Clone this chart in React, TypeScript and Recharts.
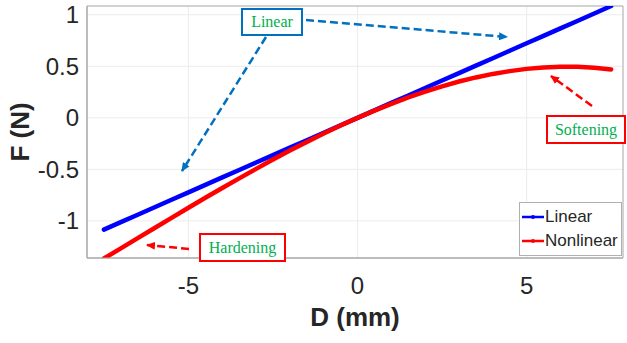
import {
  LineChart,
  Line,
  XAxis,
  YAxis,
  CartesianGrid,
  Legend,
  ReferenceArea,
  Label,
} from 'recharts';

// displacement D (mm) and force F (N)
const displacement = [
  -7.5, -7, -6.5, -6, -5.5, -5, -4.5, -4, -3.5, -3, -2.5, -2, -1.5, -1, -0.5, 0,
  0.5, 1, 1.5, 2, 2.5, 3, 3.5, 4, 4.5, 5, 5.5, 6, 6.5, 7, 7.5,
];
const linearForce = [
  -1.085, -1.012, -0.94, -0.868, -0.795, -0.723, -0.651, -0.578, -0.506, -0.434,
  -0.362, -0.289, -0.217, -0.145, -0.072, 0, 0.072, 0.145, 0.217, 0.289, 0.362,
  0.434, 0.506, 0.578, 0.651, 0.723, 0.795, 0.868, 0.94, 1.012, 1.085,
];
const nonlinearForce = [
  -1.365, -1.266, -1.167, -1.069, -0.97, -0.873, -0.776, -0.681, -0.587, -0.495,
  -0.405, -0.318, -0.234, -0.152, -0.074, 0, 0.07, 0.136, 0.198, 0.254, 0.306,
  0.352, 0.392, 0.426, 0.453, 0.475, 0.489, 0.496, 0.495, 0.486, 0.47,
];
const xTicks = [-5, 0, 5];
const yTicks = [-1, -0.5, 0, 0.5, 1];

const series = [
  { key: 'linear', name: 'Linear', color: '#0000ff' },
  { key: 'nonlinear', name: 'Nonlinear', color: '#ff0000' },
];

const data = displacement.map((d, i) => ({
  d,
  linear: linearForce[i],
  nonlinear: nonlinearForce[i],
}));

const X_DOMAIN = [-8, 7.85];
const Y_DOMAIN = [-1.36, 1.085];
const AXIS_COLOR = '#a6a6a6';
const TICK_FONT = { fontSize: 24, fill: '#262626', fontFamily: 'Liberation Sans, Arial, sans-serif' };

const LegendBox = () => (
  <div
    style={{
      background: '#fff',
      border: '1px solid #b0b0b0',
      padding: '2px 3px 2px 2px',
      fontFamily: 'Liberation Sans, Arial, sans-serif',
      fontSize: 17,
      color: '#262626',
      lineHeight: '24px',
      width: 96,
    }}
  >
    {series.map((s) => (
      <div key={s.key} style={{ display: 'flex', alignItems: 'center' }}>
        <svg width={22} height={10} style={{ marginRight: 1 }}>
          <line x1={0} y1={5} x2={22} y2={5} stroke={s.color} strokeWidth={2.5} />
          <circle cx={11} cy={5} r={2} fill={s.color} />
        </svg>
        {s.name}
      </div>
    ))}
  </div>
);

const Note = ({ x, y, w, h, text, border }: { x: number; y: number; w: number; h: number; text: string; border: string }) => (
  <g>
    <rect x={x} y={y} width={w} height={h} fill="#fff" stroke={border} strokeWidth={2} />
    <text
      x={x + w / 2}
      y={y + h / 2 + 5}
      textAnchor="middle"
      fontFamily="Liberation Serif, Times New Roman, serif"
      fontSize={16}
      fill="#00b050"
    >
      {text}
    </text>
  </g>
);

const Annotations = () => (
  <svg
    width={627}
    height={343}
    style={{ position: 'absolute', left: 0, top: 0, pointerEvents: 'none' }}
  >
    <defs>
      <marker id="headBlue" markerWidth="9" markerHeight="8" refX="8" refY="4" orient="auto" markerUnits="userSpaceOnUse" viewBox="0 0 9 8">
        <path d="M0,0 L9,4 L0,8 z" fill="#0070c0" />
      </marker>
      <marker id="headRed" markerWidth="9" markerHeight="8" refX="8" refY="4" orient="auto" markerUnits="userSpaceOnUse" viewBox="0 0 9 8">
        <path d="M0,0 L9,4 L0,8 z" fill="#ff0000" />
      </marker>
    </defs>
    <g strokeWidth={2.5} strokeDasharray="8 4" fill="none">
      <line x1={266} y1={37} x2={182} y2={171} stroke="#0070c0" markerEnd="url(#headBlue)" />
      <line x1={306} y1={20} x2={507} y2={37} stroke="#0070c0" markerEnd="url(#headBlue)" />
      <line x1={592} y1={106} x2={551} y2={76} stroke="#ff0000" markerEnd="url(#headRed)" />
      <line x1={189} y1={249} x2={147} y2={245} stroke="#ff0000" markerEnd="url(#headRed)" />
    </g>
    <Note x={242} y={9} w={60} h={26} text="Linear" border="#0070c0" />
    <Note x={547} y={116} w={78} h={27} text="Softening" border="#ff0000" />
    <Note x={200} y={234} w={85} h={27} text="Hardening" border="#ff0000" />
  </svg>
);

export default function App() {
  return (
    <div style={{ position: 'absolute', left: 0, top: 0, width: 627, height: 343, background: '#fff' }}>
      <LineChart
        width={627}
        height={343}
        data={data}
        margin={{ top: 6, right: 4, bottom: 0, left: 0 }}
      >
        <CartesianGrid stroke="#ececec" horizontalValues={yTicks} verticalValues={xTicks} />
        <ReferenceArea
          x1={X_DOMAIN[0]}
          x2={X_DOMAIN[1]}
          y1={Y_DOMAIN[0]}
          y2={Y_DOMAIN[1]}
          fill="none"
          stroke={AXIS_COLOR}
          strokeWidth={1}
        />
        <XAxis
          dataKey="d"
          type="number"
          domain={X_DOMAIN}
          ticks={xTicks}
          allowDataOverflow
          height={85}
          tickSize={0}
          tickMargin={19}
          tick={TICK_FONT}
          stroke={AXIS_COLOR}
        >
          <Label
            content={({ viewBox }: any) => (
              <text
                x={viewBox.x + viewBox.width / 2}
                y={326}
                textAnchor="middle"
                fontFamily="Liberation Sans, Arial, sans-serif"
                fontWeight="bold"
                fontSize={26}
                fill="#262626"
              >
                D (mm)
              </text>
            )}
          />
        </XAxis>
        <YAxis
          type="number"
          domain={Y_DOMAIN}
          ticks={yTicks}
          allowDataOverflow
          width={87}
          tickSize={0}
          tickMargin={8}
          tick={TICK_FONT}
          stroke={AXIS_COLOR}
        >
          <Label
            content={({ viewBox }: any) => {
              const cy = viewBox.y + viewBox.height / 2;
              return (
                <text
                  x={20}
                  y={cy}
                  transform={`rotate(-90, 20, ${cy})`}
                  textAnchor="middle"
                  dominantBaseline="central"
                  fontFamily="Liberation Sans, Arial, sans-serif"
                  fontWeight="bold"
                  fontSize={26}
                  fill="#262626"
                >
                  F (N)
                </text>
              );
            }}
          />
        </YAxis>
        {series.map((s) => (
          <Line
            key={s.key}
            dataKey={s.key}
            name={s.name}
            stroke={s.color}
            strokeWidth={4.5}
            strokeLinecap="round"
            dot={false}
            type="linear"
            isAnimationActive={false}
          />
        ))}
        <Legend
          layout="vertical"
          align="center"
          verticalAlign="middle"
          content={() => <LegendBox />}
          wrapperStyle={{ position: 'absolute', left: 519, top: 202, width: 104, height: 'auto' }}
        />
      </LineChart>
      <Annotations />
    </div>
  );
}
